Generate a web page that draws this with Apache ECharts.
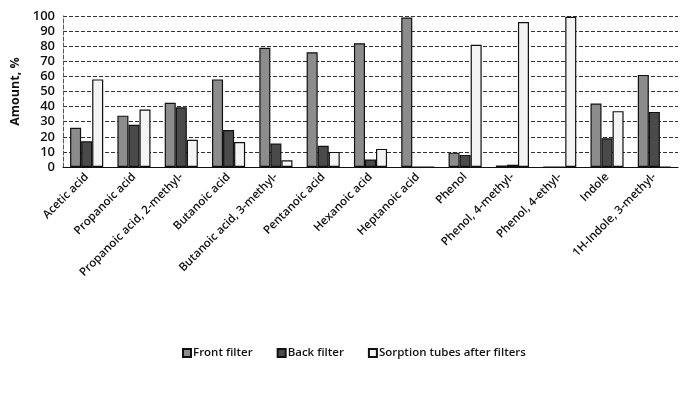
<!DOCTYPE html>
<html><head><meta charset="utf-8">
<script src="https://cdn.jsdelivr.net/npm/echarts@6/dist/echarts.min.js"></script>
<style>html,body{margin:0;padding:0;background:#fff}#c{width:686px;height:406px}</style>
</head><body><div id="c"></div>
<script>
const categories = ["Acetic acid","Propanoic acid","Propanoic acid, 2-methyl-","Butanoic acid","Butanoic acid, 3-methyl-","Pentanoic acid","Hexanoic acid","Heptanoic acid","Phenol","Phenol, 4-methyl-","Phenol, 4-ethyl-","Indole","1H-Indole, 3-methyl-"];
const frontFilter = [26, 34, 42.5, 58, 79, 76, 82, 99, 9.5, 1, 0, 42, 61];
const backFilter = [17, 28, 39.5, 24.5, 15.5, 14, 5, 0, 8, 1.5, 0, 19, 36.5];
const sorptionTubes = [58, 38, 18, 16.5, 4.5, 10, 12, 0, 81, 96, 99.5, 37, 0];
const seriesNames = ["Front filter","Back filter","Sorption tubes after filters"];
const yTicks = {min: 0, max: 100, interval: 10};

const chart = echarts.init(document.getElementById('c'));
const font = '"Open Sans", "Noto Sans", sans-serif';
const mk = (name, data, color) => ({
  name, type: 'bar', data,
  barGap: '0%', barCategoryGap: '30%',
  itemStyle: {color, borderColor: '#111', borderWidth: 1.2}
});
chart.setOption({
  animation: false,
  textStyle: {fontFamily: font},
  grid: {left: 63, right: 8, top: 16, bottom: 239},
  legend: {
    bottom: 42, left: 177, itemWidth: 8, itemHeight: 8, itemGap: 24,
    icon: 'rect',
    textStyle: {fontSize: 11.5, fontWeight: 600, color: '#111', fontFamily: font, padding: [0, 0, 0, -3]},
    data: seriesNames
  },
  xAxis: {
    type: 'category', data: categories,
    axisLine: {lineStyle: {color: '#111', width: 1}},
    axisTick: {show: false},
    axisLabel: {rotate: 45, interval: 0, fontSize: 11.5, fontWeight: 600, color: '#111', margin: 8}
  },
  yAxis: {
    type: 'value', min: yTicks.min, max: yTicks.max, interval: yTicks.interval,
    name: 'Amount, %', nameLocation: 'middle', nameGap: 40,
    nameTextStyle: {fontSize: 12.5, fontWeight: 'bold', color: '#111'},
    axisLine: {show: true, lineStyle: {color: '#555', type: 'dashed'}},
    axisTick: {show: false},
    axisLabel: {fontSize: 13, fontWeight: 600, color: '#111', margin: 8},
    splitLine: {lineStyle: {color: '#333', type: 'dashed', width: 1}}
  },
  series: [
    mk(seriesNames[0], frontFilter, '#8c8c8c'),
    mk(seriesNames[1], backFilter, '#4a4a4a'),
    mk(seriesNames[2], sorptionTubes, '#f4f4f4')
  ]
});
</script></body></html>
